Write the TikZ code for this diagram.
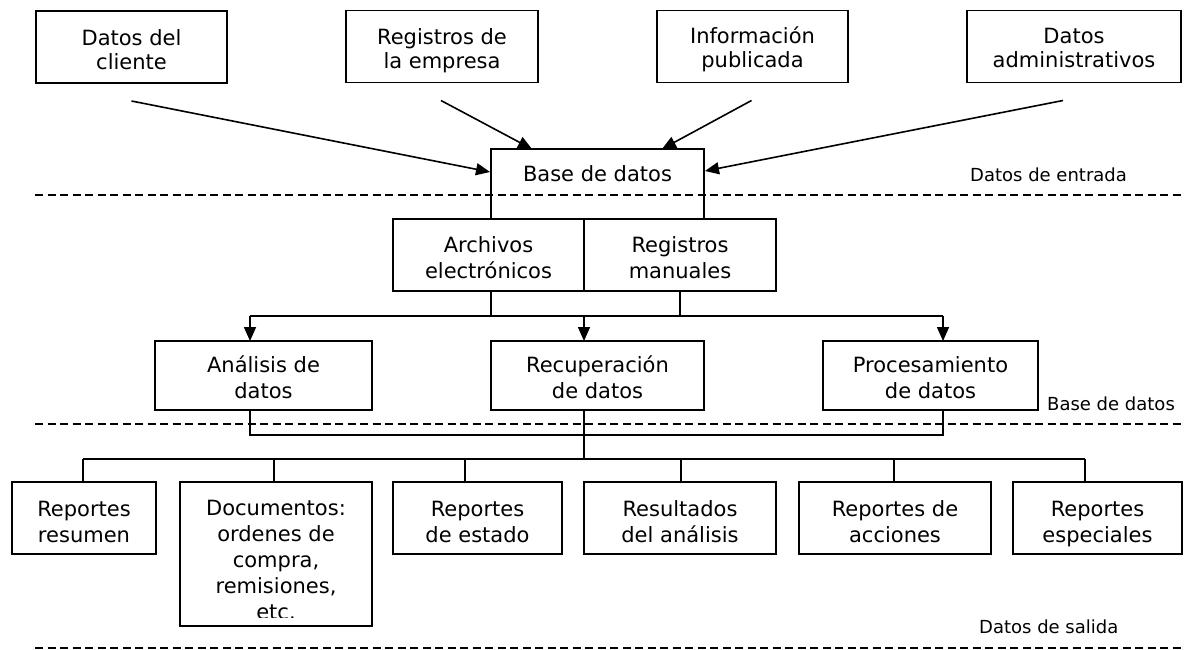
\documentclass[tikz,border=0pt]{standalone}
\usepackage{fontspec}
\setmainfont{DejaVu Sans}
\usetikzlibrary{arrows.meta,calc}
\newcommand{\mlines}[1]{\begin{tabular}[t]{@{}c@{}}#1\end{tabular}}
\begin{document}
\begin{tikzpicture}[x=1pt,y=-1pt,
  box/.style={draw, line width=1.4pt, inner sep=0pt, outer sep=0pt},
  ttop/.style={anchor=base, inner sep=0pt, font=\fontsize{21}{24}\selectfont},
  tmid/.style={anchor=base, inner sep=0pt, font=\fontsize{21}{26}\selectfont},
  conn/.style={line width=1.5pt},
  arr/.style={line width=1.6pt, -{Triangle[length=14pt,width=12pt]}},
  sep/.style={line width=1.7pt, dash pattern=on 8pt off 4.5pt},
  lbl/.style={anchor=base west, inner sep=0pt, font=\fontsize{18}{22}\selectfont}]
\useasboundingbox (0,0) rectangle (1186,650);
% top sources
\node[box, minimum width=191pt, minimum height=72pt] (c1) at (131.5,47) {};
\node[box, minimum width=192pt, minimum height=72pt] (c2) at (442,46.5) {};
\node[box, minimum width=191pt, minimum height=72pt] (c3) at (752.5,46.5) {};
\node[box, minimum width=214pt, minimum height=72pt] (c4) at (1074,46.5) {};
\node[ttop] (c1t) at (131.5,46) {\mlines{Datos del\\cliente}};
\node[ttop] (c2t) at (442,45) {\mlines{Registros de\\la empresa}};
\node[ttop] (c3t) at (752.5,44) {\mlines{Información\\publicada}};
\node[ttop] (c4t) at (1074,44) {\mlines{Datos\\administrativos}};
% base de datos
\node[box, minimum width=213pt, minimum height=70pt] (bd) at (597.5,184) {};
\node[tmid] (bdt) at (597.5,181) {Base de datos};
\node[box, minimum width=191pt, minimum height=72pt] (ae) at (488.5,255) {};
\node[box, minimum width=192pt, minimum height=72pt] (rm) at (680,255) {};
\node[tmid] (aet) at (488.5,252) {\mlines{Archivos\\electrónicos}};
\node[tmid] (rmt) at (680,252) {\mlines{Registros\\manuales}};
% middle
\node[box, minimum width=217pt, minimum height=69pt] (an) at (263.5,375.5) {};
\node[box, minimum width=213pt, minimum height=69pt] (rc) at (597.5,375.5) {};
\node[box, minimum width=215pt, minimum height=69pt] (pr) at (930.5,375.5) {};
\node[tmid] (ant) at (263.5,372) {\mlines{Análisis de\\datos}};
\node[tmid] (rct) at (597.5,372) {\mlines{Recuperación\\de datos}};
\node[tmid] (prt) at (930.5,372) {\mlines{Procesamiento\\de datos}};
% bottom
\node[box, minimum width=144pt, minimum height=72pt] (b1) at (84,518) {};
\node[box, minimum width=192pt, minimum height=144pt] (b2) at (276,554) {};
\node[box, minimum width=169pt, minimum height=72pt] (b3) at (477.5,518) {};
\node[box, minimum width=192pt, minimum height=72pt] (b4) at (680,518) {};
\node[box, minimum width=192pt, minimum height=72pt] (b5) at (895,518) {};
\node[box, minimum width=169pt, minimum height=72pt] (b6) at (1097.5,518) {};
\node[tmid] (b1t) at (84,516) {\mlines{Reportes\\resumen}};
\begin{scope}
\clip (180,482) rectangle (372,617);
\node[tmid] (b2t) at (276,515) {\mlines{Documentos:\\ordenes de\\compra,\\remisiones,\\etc.}};
\end{scope}
\node[tmid] (b3t) at (477.5,516) {\mlines{Reportes\\de estado}};
\node[tmid] (b4t) at (680,516) {\mlines{Resultados\\del análisis}};
\node[tmid] (b5t) at (895,516) {\mlines{Reportes de\\acciones}};
\node[tmid] (b6t) at (1097.5,516) {\mlines{Reportes\\especiales}};
% separators and labels
\coordinate (l1a) at (35,195); \coordinate (l1b) at (1183,195);
\coordinate (l2a) at (35,424); \coordinate (l2b) at (1183,424);
\coordinate (l3a) at (35,648); \coordinate (l3b) at (1183,648);
\draw[sep] (l1a) -- (l1b);
\draw[sep] (l2a) -- (l2b);
\draw[sep] (l3a) -- (l3b);
\node[lbl] (t1) at (970,181) {Datos de entrada};
\node[lbl] (t2) at (1047,410) {Base de datos};
\node[lbl] (t3) at (979,633) {Datos de salida};
% input arrows
\coordinate (s1) at ($(c1.south)+(0,18)$);
\coordinate (s2) at ($(c2.south)+(-1,18)$);
\coordinate (s3) at ($(c3.south)+(-1,18)$);
\coordinate (s4) at ($(c4.south)+(-11,18)$);
\draw[arr] (s1) -- ($(bd.north west)+(-1,23)$);
\draw[arr] (s2) -- ($(bd.north west)+(41,0)$);
\draw[arr] (s3) -- ($(bd.north west)+(171,0)$);
\draw[arr] (s4) -- ($(bd.north east)+(1,22)$);
% distribution to processes
\coordinate (a1) at (250,316); \coordinate (a2) at (584,316); \coordinate (a3) at (943,316);
\coordinate (v1) at (491,316);
\draw[conn] (ae.south -| v1) -- (v1);
\draw[conn] (rm.south) -- (rm.south |- a1);
\draw[conn] (a1) -- (a3);
\draw[arr] (a1) -- (a1 |- an.north);
\draw[arr] (a2) -- (a2 |- rc.north);
\draw[arr] (a3) -- (a3 |- pr.north);
% collection to outputs
\coordinate (j1) at (250,435); \coordinate (j3) at (943,435);
\draw[conn] (an.south -| j1) -- (j1) -- (j3) -- (pr.south -| j3);
\coordinate (m) at (584,459);
\draw[conn] (rc.south -| m) -- (m);
\coordinate (d1) at (83,459); \coordinate (d2) at (274,459); \coordinate (d3) at (465,459);
\coordinate (d4) at (681,459); \coordinate (d5) at (894,459); \coordinate (d6) at (1085,459);
\draw[conn] (d1) -- (d6);
\draw[conn] (d1) -- (d1 |- b1.north);
\draw[conn] (d2) -- (d2 |- b2.north);
\draw[conn] (d3) -- (d3 |- b3.north);
\draw[conn] (d4) -- (d4 |- b4.north);
\draw[conn] (d5) -- (d5 |- b5.north);
\draw[conn] (d6) -- (d6 |- b6.north);
\end{tikzpicture}
\end{document}
